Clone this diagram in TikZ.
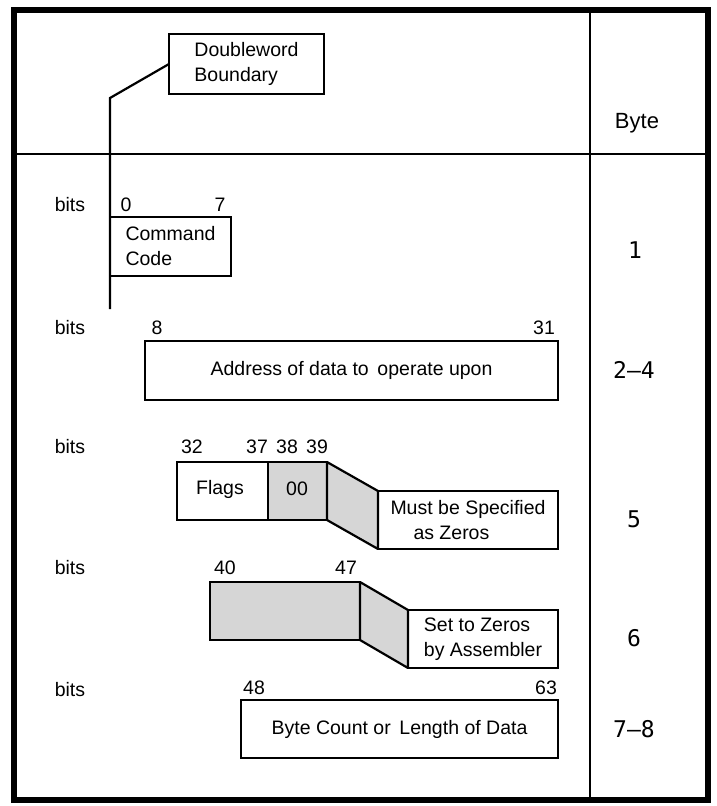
\documentclass[tikz,border=0pt]{standalone}
\usepackage{fontspec}
\setmainfont{Liberation Sans}
\newfontfamily\monof{DejaVu Sans Mono}
\begin{document}
\begin{tikzpicture}[x=1pt,y=-1pt,
  every node/.style={font=\fontsize{19.5}{25}\selectfont, inner sep=0pt, outer sep=0pt},
  fieldbox/.style={draw, line width=2.2pt, align=left},
  shadebox/.style={draw, line width=2.2pt, fill=black!16},
  shadefill/.style={fill=black!16, draw, line width=2.2pt, line join=round},
  bytenum/.style={font=\fontsize{23}{25}\selectfont\monof},
  bytehead/.style={font=\fontsize{22}{24}\selectfont},
  conn/.style={line width=2.2pt}]
\useasboundingbox (0,0) rectangle (717,806);
% frame and separators
\draw[line width=6pt] (14,10) rectangle (708,800);
\draw[line width=1.5pt] (590,10) -- (590,800);
\draw[line width=1.5pt] (14,154) -- (708,154);
\node[bytehead] (byte) at (637,123) {Byte};
% doubleword boundary
\node[fieldbox, minimum width=155pt, minimum height=60pt] (dw) at (246.5,64) {Doubleword\\Boundary};
\coordinate (bend) at (110,98);
\coordinate (lineend) at (110,309);
\draw[conn] (dw.west) -- (bend) -- (lineend);
% byte 1
\node (bits1) at (70,205) {bits};
\node (b0) at (126,205) {0};
\node (b7) at (220,205) {7};
\node[fieldbox, minimum width=121pt, minimum height=59pt] (cmd) at (170.5,246.5) {Command\\Code};
\node[bytenum] (n1) at (635,250) {1};
% bytes 2-4
\node (bits2) at (70,328) {bits};
\node (b8) at (157,328) {8};
\node (b31) at (544,328) {31};
\node[fieldbox, minimum width=413pt, minimum height=59pt] (addr) at (351.5,370.5) {Address of data to\ \,operate upon};
\node[bytenum] (n24) at (634,370) {2–4};
% byte 5
\node (bits3) at (70,447) {bits};
\node (b32) at (192,447) {32};
\node (b37) at (257,447) {37};
\node (b38) at (287,447) {38};
\node (b39) at (317,447) {39};
\node[fieldbox, minimum width=91pt, minimum height=58pt] (flags) at (222.5,491) {};
\node (flagst) at (220,489) {Flags};
\node[shadebox, minimum width=59pt, minimum height=58pt] (z00) at (297.5,491) {};
\node (z00t) at (297,489) {00};
\node[fieldbox, minimum width=180pt, minimum height=58pt] (must) at (468,520) {Must be Specified\\\hspace*{23pt}as Zeros};
\draw[shadefill] (z00.north east) -- (must.north west) -- (must.south west) -- (z00.south east) -- cycle;
\node[bytenum] (n5) at (634,519) {5};
% byte 6
\node (bits4) at (70,568) {bits};
\node (b40) at (225,568) {40};
\node (b47) at (346,568) {47};
\node[shadebox, minimum width=150pt, minimum height=58pt] (z40) at (285,611) {};
\node[fieldbox, minimum width=150pt, minimum height=58pt] (setz) at (483,639) {Set to Zeros\\by Assembler};
\draw[shadefill] (z40.north east) -- (setz.north west) -- (setz.south west) -- (z40.south east) -- cycle;
\node[bytenum] (n6) at (634,638) {6};
% bytes 7-8
\node (bits5) at (70,690) {bits};
\node (b48) at (254,688) {48};
\node (b63) at (546,688) {63};
\node[fieldbox, minimum width=317pt, minimum height=58pt] (cnt) at (399.5,729) {Byte Count or\ \,Length of Data};
\node[bytenum] (n78) at (634,729) {7–8};
\end{tikzpicture}
\end{document}
